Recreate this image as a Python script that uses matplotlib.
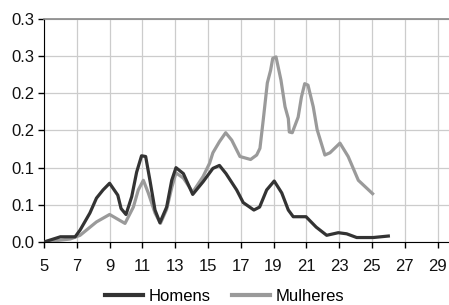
#!/usr/bin/env python3
# Homens / Mulheres distribution curves
import matplotlib
matplotlib.use('Agg')
import matplotlib.pyplot as plt

# Data ==================================================================
x_homens=[5.0,6.0,6.9,7.2,7.8,8.2,8.6,9.0,9.5,9.7,10.0,10.35,10.65,10.95,
          11.2,11.46,11.77,12.07,12.48,12.79,13.05,13.5,14.07,14.7,15.3,
          15.7,16.1,16.75,17.15,17.8,18.15,18.58,19.04,19.5,19.9,20.2,
          20.98,21.6,22.24,22.95,23.46,24.07,25.08,26.0]
y_homens=[0.0,0.007,0.007,0.016,0.039,0.059,0.070,0.079,0.063,0.045,
          0.037,0.061,0.094,0.116,0.115,0.083,0.043,0.026,0.047,0.083,
          0.100,0.092,0.064,0.081,0.099,0.103,0.092,0.070,0.053,0.043,
          0.047,0.070,0.082,0.066,0.043,0.034,0.034,0.020,0.009,0.0125,
          0.011,0.006,0.006,0.008]

x_mulheres=[5.0,6.6,7.2,8.2,9.0,9.94,10.45,10.75,11.06,11.36,11.77,12.1,
            12.48,12.8,13.05,13.5,14.07,14.7,15.1,15.3,15.7,16.08,16.45,
            16.95,17.6,17.97,18.17,18.37,18.62,18.82,18.95,19.15,19.45,
            19.7,19.9,19.96,20.14,20.5,20.7,20.9,21.1,21.42,21.66,22.13,
            22.44,23.05,23.55,24.17,25.04]
y_mulheres=[0.0,0.004,0.009,0.027,0.037,0.025,0.047,0.070,0.083,0.066,
            0.039,0.025,0.044,0.074,0.093,0.086,0.067,0.088,0.106,0.120,
            0.135,0.147,0.137,0.115,0.111,0.117,0.126,0.164,0.214,0.231,
            0.247,0.249,0.218,0.182,0.166,0.148,0.147,0.168,0.195,0.213,
            0.211,0.182,0.151,0.117,0.120,0.133,0.115,0.083,0.065]

x_ticks=list(range(5,30,2))
y_ticks=[0.0,0.05,0.10,0.15,0.20,0.25,0.30]
y_ticklabels=['0.0','0.1','0.1','0.2','0.2','0.3','0.3']


def main():
    plt.rcParams['font.family']=['Liberation Sans','DejaVu Sans']

    fig=plt.figure(figsize=(4.49,3.05),dpi=100)
    ax=fig.add_axes([0.098,0.2066,0.902,0.7311])

    ax.plot(x_homens,y_homens,color='#333333',lw=2.3,label='Homens',
            solid_joinstyle='round',zorder=3)
    ax.plot(x_mulheres,y_mulheres,color='#9a9a9a',lw=2.3,label='Mulheres',
            solid_joinstyle='round',zorder=2)

    ax.set_xlim(5,29.7)
    ax.set_ylim(0,0.3)
    ax.set_xticks(x_ticks)
    ax.set_yticks(y_ticks)
    ax.set_yticklabels(y_ticklabels)

    ax.grid(True,color='#cccccc',lw=0.9)
    ax.set_axisbelow(True)

    ax.spines['right'].set_visible(False)
    ax.spines['top'].set_color('#888888')
    ax.spines['top'].set_linewidth(1.2)
    ax.spines['left'].set_color('black')
    ax.spines['bottom'].set_color('black')
    ax.tick_params(axis='both',labelsize=12,length=4,width=1,
                   color='black',labelcolor='#111111')
    ax.tick_params(axis='x',pad=8)
    ax.tick_params(axis='y',pad=3)

    leg=fig.legend(loc='lower center',bbox_to_anchor=(0.5,-0.045),ncol=2,
                   frameon=False,fontsize=12,handlelength=2.3,
                   columnspacing=1.3,handletextpad=0.3)
    for ln in leg.get_lines():
        ln.set_linewidth(3.0)

    fig.savefig('out.png',dpi=100)
    plt.close('all')


if __name__=='__main__':
    main()
